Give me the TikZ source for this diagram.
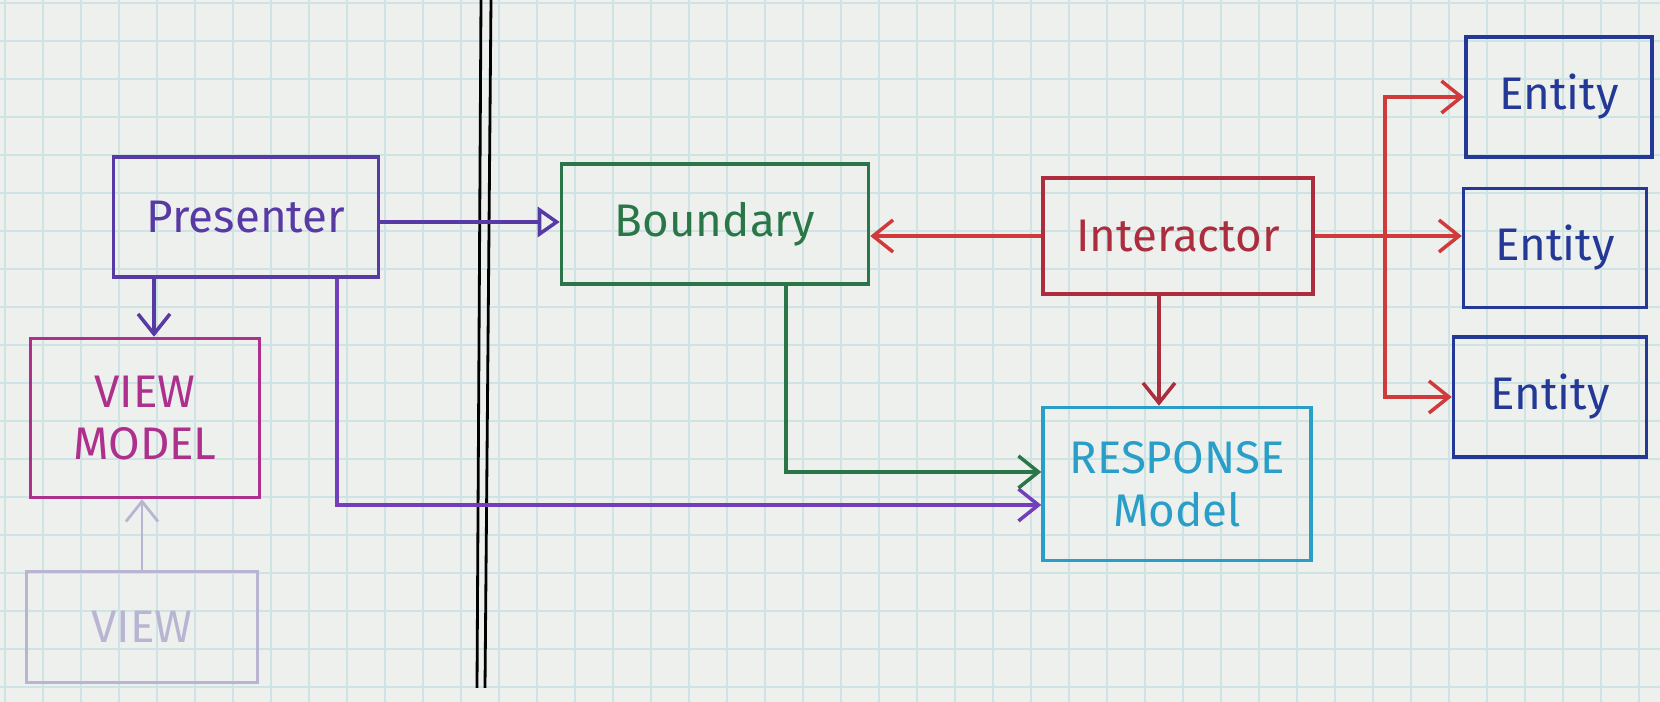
\documentclass[tikz,border=0pt]{standalone}
\usepackage{fontspec}
\setmainfont{Fira Sans}
\usepackage{tikz}
\usetikzlibrary{arrows.meta,positioning,calc}

\definecolor{paper}{RGB}{238,240,238}
\definecolor{gridc}{RGB}{206,228,228}
\definecolor{presc}{RGB}{88,58,165}
\definecolor{plinec}{RGB}{115,62,185}
\definecolor{vmc}{RGB}{172,48,140}
\definecolor{viewc}{RGB}{184,180,210}
\definecolor{boundc}{RGB}{42,118,72}
\definecolor{interc}{RGB}{172,45,62}
\definecolor{redarr}{RGB}{208,58,58}
\definecolor{respc}{RGB}{40,158,200}
\definecolor{entc}{RGB}{36,56,150}

\tikzset{
  box/.style={draw, rectangle, line width=1pt, inner sep=0pt,
    font=\fontsize{13}{15}\selectfont},
  vhead/.style={line width=1pt, -{Straight Barb[length=2mm,width=3.2mm]}},
  trihead/.style={line width=1pt, -{Triangle[open,length=2.2mm,width=3mm]}},
}

\begin{document}
\begin{tikzpicture}[x=0.1mm, y=0.1mm]
    \useasboundingbox (0,0) rectangle (1660,702);
    \fill[paper] (0,0) rectangle (1660,702);

    % Grid paper
    \foreach \x in {0,...,43} {
        \draw[gridc, line width=0.5pt] ({5+38*\x},0) -- ({5+38*\x},702);
    }
    \foreach \y in {0,...,18} {
        \draw[gridc, line width=0.5pt] (0,{699-38*\y}) -- (1660,{699-38*\y});
    }

    % Divider
    \draw[line width=0.8pt] (481,702) -- (477,14);
    \draw[line width=0.8pt] (491,702) -- (485,14);

    % Left side
    \node[box, draw=presc, text=presc, minimum width=26.5mm, minimum height=12mm] (presenter) at (246,485) {Presenter};
    \node[box, draw=vmc, text=vmc, minimum width=22.9mm, minimum height=15.9mm, align=center] (viewmodel) at (145,284) {VIEW\\MODEL};
    \node[box, draw=viewc, text=viewc, minimum width=23.1mm, minimum height=11.1mm] (view) at (142,75) {VIEW};

    % Right side
    \node[box, draw=boundc, text=boundc, minimum width=30.7mm, minimum height=12mm] (boundary) at (715,478) {Boundary};
    \node[box, draw=interc, text=interc, minimum width=27mm, minimum height=11.6mm] (interactor) at (1178,466) {Interactor};
    \node[box, draw=respc, text=respc, minimum width=26.8mm, minimum height=15.3mm, align=center] (response) at (1177,218) {RESPONSE\\Model};
    \node[box, draw=entc, text=entc, minimum width=18.6mm, minimum height=12mm] (entity1) at (1559,605) {Entity};
    \node[box, draw=entc, text=entc, minimum width=18.3mm, minimum height=11.9mm] (entity2) at (1555,454) {Entity};
    \node[box, draw=entc, text=entc, minimum width=19.3mm, minimum height=12mm] (entity3) at (1550,305) {Entity};

    % Presenter connections
    \coordinate (pv) at ($(viewmodel.north)+(9,0)$);
    \coordinate (pl) at (337,0);
    \draw[presc, trihead] ([yshift=-0.5mm]presenter.east) -- ([yshift=-0.5mm]presenter.east -| boundary.west);
    \draw[presc, vhead] (pv |- presenter.south) -- (pv);
    \draw[plinec, vhead] (pl |- presenter.south) |- ([yshift=-2.1mm]response.west);
    \draw[viewc, line width=0.8pt, -{Straight Barb[length=2mm,width=3.2mm]}] (view.north) -- (view.north |- viewmodel.south);

    % Boundary and interactor
    \draw[boundc, vhead] ([xshift=7.1mm]boundary.south) |- ([yshift=1.2mm]response.west);
    \draw[redarr, vhead] (interactor.west) -- (interactor.west -| boundary.east);
    \draw[interc, vhead] ([xshift=-1.9mm]interactor.south) -- ([xshift=-1.9mm]interactor.south |- response.north);

    % Entities
    \coordinate (fork) at (1385,0);
    \draw[redarr, vhead] (interactor.east) -- (interactor.east -| entity2.west);
    \draw[redarr, vhead] (fork |- interactor.east) |- (entity1.west);
    \draw[redarr, vhead] (fork |- interactor.east) |- (entity3.west);
\end{tikzpicture}
\end{document}
